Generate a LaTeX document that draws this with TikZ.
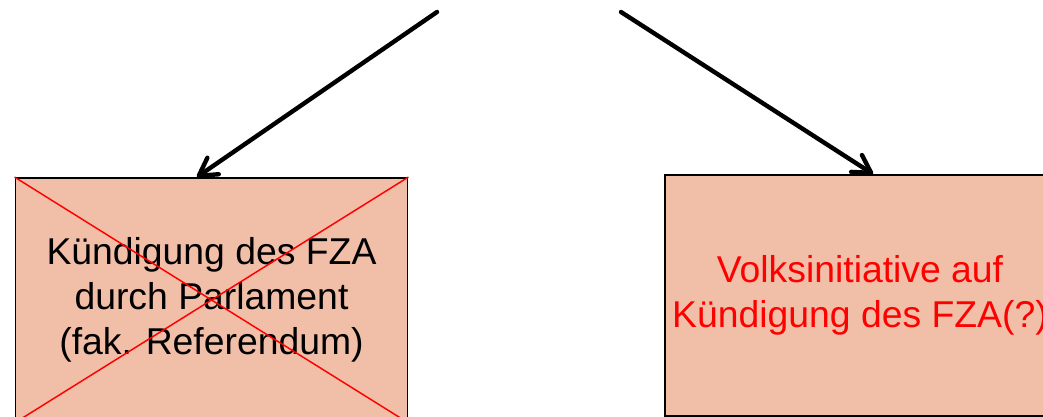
\documentclass[tikz,border=0pt]{standalone}
\usepackage{fontspec}
\setmainfont{Liberation Sans}
\usetikzlibrary{arrows.meta,positioning,calc}
\definecolor{boxfill}{RGB}{241,190,168}

\begin{document}
\begin{tikzpicture}[x=0.75pt, y=-0.75pt,
  box/.style={rectangle, draw, line width=1.4pt, fill=boxfill, align=center, font=\fontsize{28}{33.75}\selectfont},
  cross/.style={red, line width=1.1pt},
  arrow/.style={line width=3.3pt, line cap=round, -{Straight Barb[length=13pt, width=15pt, round]}}]

\useasboundingbox (0,0) rectangle (1043,417);
\clip (0,0) rectangle (1043,417);

\node[box, minimum width=294pt, minimum height=183pt] (kuendigung) at (211.5,300) {Kündigung des FZA\\durch Parlament\\(fak. Referendum)};
\node[box, text=red, minimum width=292.5pt, minimum height=180.75pt] (initiative) at (860,295.5) {Volksinitiative auf\\Kündigung des FZA(?)};

% durchgestrichen
\draw[cross] (kuendigung.north west) -- (kuendigung.south east)
             (kuendigung.north east) -- (kuendigung.south west);

\coordinate (startL) at (437,12);
\coordinate (startR) at (621,12);

\draw[arrow] (startL) -- ([xshift=-10.9pt]kuendigung.north);
\draw[arrow] (startR) -- ([xshift=9.75pt]initiative.north);

\end{tikzpicture}
\end{document}
